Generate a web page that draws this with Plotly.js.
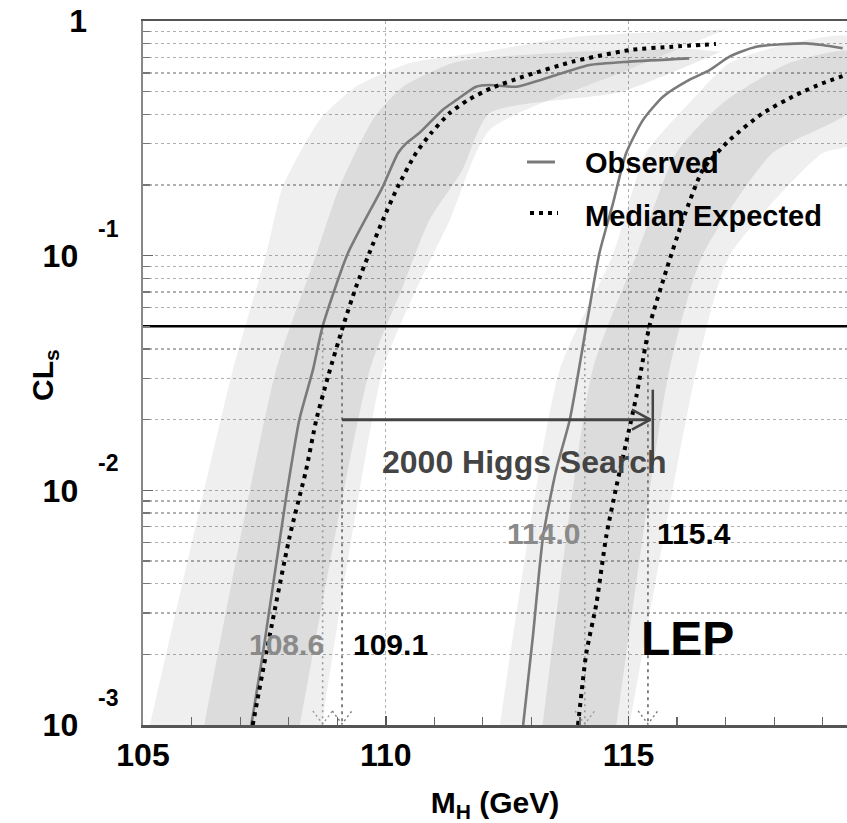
<!DOCTYPE html>
<html><head><meta charset="utf-8">
<script src="https://cdn.plot.ly/plotly-3.0.1.min.js"></script>
<style>html,body{margin:0;padding:0;background:#fff}</style>
</head><body><div id="chart" style="width:847px;height:823px"></div>
<script>
// ---------------- data ----------------
// earlier search: observed / median expected CLs vs Higgs mass
const obsLeftM  = [107.23,107.47,107.95,108.22,108.50,108.70,109.22,109.94,110.25,110.42,110.69,111.17,111.45,111.86,112.14,112.69,113.51,114.20,115.02,116.25];
const obsLeftCL = [0.001,0.00202,0.0094,0.0200,0.0326,0.050,0.1024,0.197,0.273,0.301,0.333,0.418,0.460,0.525,0.534,0.525,0.589,0.649,0.671,0.693];
const expLeftM  = [107.26,107.54,108.02,108.36,108.57,108.81,109.12,109.39,109.66,109.94,110.25,110.62,110.93,111.31,111.69,112.17,112.83,113.85,115.02,115.91,116.80];
const expLeftCL = [0.001,0.00203,0.00635,0.01222,0.0200,0.0305,0.050,0.0738,0.1024,0.142,0.197,0.273,0.332,0.404,0.460,0.517,0.579,0.671,0.752,0.777,0.798];
// 2000 search
const obsRightM  = [112.83,113.03,113.24,113.51,113.79,114.13,114.40,114.68,114.95,115.30,115.71,116.25,116.67,117.08,117.63,118.65,118.99,119.41];
const obsRightCL = [0.001,0.00238,0.00635,0.0122,0.0200,0.050,0.1024,0.167,0.273,0.379,0.476,0.561,0.618,0.705,0.777,0.803,0.790,0.765];
const expRightM  = [113.96,114.13,114.34,114.54,114.75,114.95,115.16,115.26,115.43,115.78,116.12,116.53,117.08,117.76,118.45,119.00,119.48];
const expRightCL = [0.001,0.00202,0.0033,0.00635,0.01037,0.0159,0.0251,0.0326,0.050,0.0869,0.142,0.232,0.311,0.404,0.484,0.543,0.589];

// +-2 sigma (light) and +-1 sigma (dark) bands: lower-mass edge then higher-mass edge
const bandL2loM = [105.14,106.85,107.53,107.88,108.64,109.38,110.49,111.85,114.0,117.0];
const bandL2loCL= [0.001,0.0326,0.1,0.197,0.379,0.524,0.662,0.731,0.86,0.92];
const bandL2hiM = [117.0,115.0,112.14,111.32,110.60,109.94,108.68];
const bandL2hiCL= [0.92,0.62,0.343,0.142,0.070,0.0326,0.001];
const bandL1loM = [106.26,107.74,108.56,109.05,109.73,110.35,111.38,112.14,114.0,116.25,116.9];
const bandL1loCL= [0.001,0.0326,0.1,0.197,0.379,0.524,0.662,0.70,0.74,0.76,0.74];
const bandL1hiM = [116.9,114.86,112.14,111.58,110.90,110.35,109.67,108.23];
const bandL1hiCL= [0.74,0.50,0.405,0.232,0.142,0.0738,0.0326,0.001];

const bandR2loM = [112.35,113.58,114.67,115.36,116.25,117.08,118.30,119.6];
const bandR2loCL= [0.001,0.0326,0.1,0.273,0.447,0.662,0.80,0.85];
const bandR2hiM = [119.6,118.99,117.08,116.40,115.02];
const bandR2hiCL= [0.30,0.273,0.1,0.0326,0.001];
const bandR1loM = [113.23,114.26,115.16,115.98,116.94,118.31,119.6];
const bandR1loCL= [0.001,0.0326,0.1,0.273,0.447,0.662,0.74];
const bandR1hiM = [119.6,117.96,116.52,115.84,114.75];
const bandR1hiCL= [0.42,0.273,0.1,0.0326,0.001];

const clsLevel = 0.05;
const obsLimitText = ['108.6','114.0'];
const expLimitText = ['109.1','115.4'];
const obsLimitX = [108.7, 114.1];
const expLimitX = [109.1, 115.4];
const searchArrowCL = 0.02;
const searchLabel = '2000 Higgs Search';
const legendLabels = ['Observed','Median Expected'];

const xTickVals = [105,110,115];
const xTickText = ['105','110','115'];
const yTickVals = [0.001,0.01,0.1,1];
const yTickText = ['10\u00a0','10\u00a0','10\u00a0','1'];
const yTickExp  = ['-3','-2','-1',''];

// ---------------- drawing ----------------
const F = 'Liberation Sans, Arial, Helvetica, sans-serif';
const XR = [105,119.5];
const OBS_C = '#7a7a7a';
const DOT = '4px,5px';

function band(loM, loCL, hiM, hiCL, color){
  return {x: loM.concat(hiM), y: loCL.concat(hiCL), type:'scatter', mode:'lines',
    fill:'toself', fillcolor: color, line:{width:0, shape:'spline', smoothing:0.6}, hoverinfo:'skip', showlegend:false};
}
function line(x, y, color, width, dash, smooth){
  const l = {color:color, width:width, dash:dash||'solid'};
  if(smooth){ l.shape='spline'; l.smoothing=smooth; }
  return {x:x, y:y, type:'scatter', mode:'lines', line:l, hoverinfo:'skip', showlegend:false};
}
const light = 'rgba(0,0,0,0.062)';
const dark  = 'rgba(0,0,0,0.08)';

const traces = [
  band(bandL2loM,bandL2loCL,bandL2hiM,bandL2hiCL, light),
  band(bandR2loM,bandR2loCL,bandR2hiM,bandR2hiCL, light),
  band(bandL1loM,bandL1loCL,bandL1hiM,bandL1hiCL, dark),
  band(bandR1loM,bandR1loCL,bandR1hiM,bandR1hiCL, dark),
];
// vertical limit markers
const yBot = 0.001;
function pxUp(p){ return Math.pow(10, -3 + p/234.7); }
obsLimitX.forEach(v=>{
  traces.push(line([v,v],[clsLevel,yBot],'#9a9a9a',1.6,'2px,4px'));
  traces.push(line([v-0.2,v,v+0.2],[pxUp(14),pxUp(1),pxUp(14)],'#9a9a9a',1.4,'2px,3px'));
});
expLimitX.forEach(v=>{
  traces.push(line([v,v],[clsLevel,yBot],'#777',1.8,'3px,4px'));
  traces.push(line([v-0.2,v,v+0.2],[pxUp(14),pxUp(1),pxUp(14)],'#777',1.4,'2px,3px'));
});
// curves
traces.push(line(obsLeftM, obsLeftCL, OBS_C, 2.6, null, 0.6));
traces.push(line(obsRightM, obsRightCL, OBS_C, 2.6, null, 0.6));
traces.push(line(expLeftM, expLeftCL, '#000', 4, DOT, 0.6));
traces.push(line(expRightM, expRightCL, '#000', 4, DOT, 0.6));
// 95% CL line
traces.push(line(XR, [clsLevel, clsLevel], '#000', 2.6));
// search arrow
const aTip = 115.45;
traces.push(line([expLimitX[0], aTip], [searchArrowCL, searchArrowCL], '#444', 3));
traces.push(line([aTip-0.38, aTip, aTip-0.38], [searchArrowCL*Math.pow(10,10/234.7), searchArrowCL, searchArrowCL/Math.pow(10,10/234.7)], '#444', 2.5));
traces.push(line([aTip+0.05, aTip+0.05], [searchArrowCL*Math.pow(10,30/234.7), searchArrowCL/Math.pow(10,45/234.7)], '#444', 2.5));

function px2paperX(p){ return (p-143)/704; }
function px2paperY(p){ return (725-p)/704; }

const annotations = [
  {text: obsLimitText[0], x: px2paperX(286), y: px2paperY(644), color:'#8a8a8a'},
  {text: expLimitText[0], x: px2paperX(390.5), y: px2paperY(644), color:'#000'},
  {text: obsLimitText[1], x: px2paperX(543), y: px2paperY(533), color:'#8a8a8a'},
  {text: expLimitText[1], x: px2paperX(694), y: px2paperY(533), color:'#000'},
].map(a=>({xref:'paper', yref:'paper', x:a.x, y:a.y, text:a.text, showarrow:false,
  xanchor:'center', yanchor:'middle', font:{family:F, size:30, color:a.color, weight:'bold'}}));
annotations.push({xref:'paper', yref:'paper', x:px2paperX(524), y:px2paperY(462), text:searchLabel,
  showarrow:false, xanchor:'center', yanchor:'middle', font:{family:F, size:32, color:'#444', weight:'bold'}});
annotations.push({xref:'paper', yref:'paper', x:px2paperX(687), y:px2paperY(638), text:'LEP',
  showarrow:false, xanchor:'center', yanchor:'middle', font:{family:F, size:48, color:'#000', weight:'bold'}});
annotations.push({xref:'paper', yref:'paper', x:px2paperX(583), y:px2paperY(163), text:legendLabels[0],
  showarrow:false, xanchor:'left', yanchor:'middle', font:{family:F, size:29, color:'#000', weight:'bold'}});
annotations.push({xref:'paper', yref:'paper', x:px2paperX(583), y:px2paperY(216), text:legendLabels[1],
  showarrow:false, xanchor:'left', yanchor:'middle', font:{family:F, size:29, color:'#000', weight:'bold'}});
// y axis title
annotations.push({xref:'paper', yref:'paper', x:px2paperX(44), y:px2paperY(375), text:'CL<sub>s</sub>', textangle:-90,
  showarrow:false, xanchor:'center', yanchor:'middle', font:{family:F, size:30, color:'#000', weight:'bold'}});
// exponents of the y tick labels
yTickVals.forEach((v,i)=>{
  if(!yTickExp[i]) return;
  annotations.push({xref:'paper', yref:'y', x:px2paperX(108), y:Math.log10(v), yshift:27, text:yTickExp[i],
    showarrow:false, xanchor:'center', yanchor:'middle', font:{family:F, size:23, color:'#000', weight:'bold'}});
});

const shapes = [
  {type:'line', xref:'paper', yref:'paper', x0:px2paperX(527), x1:px2paperX(555), y0:px2paperY(162), y1:px2paperY(162),
   line:{color:OBS_C, width:3}},
  {type:'line', xref:'paper', yref:'paper', x0:px2paperX(530), x1:px2paperX(558), y0:px2paperY(213), y1:px2paperY(213),
   line:{color:'#000', width:4, dash:DOT}},
];

const layout = {
  width:847, height:823, margin:{l:143, r:0, t:21, b:98}, autosize:false,
  paper_bgcolor:'#fff', plot_bgcolor:'#fff', showlegend:false,
  font:{family:F, size:32, color:'#000', weight:'bold'},
  xaxis:{range:XR, tickmode:'array', tickvals:xTickVals, ticktext:xTickText, ticks:'inside', ticklen:9, tickwidth:1.5,
    tickcolor:'#555', showline:true, linecolor:'#555', linewidth:2.5, mirror:true, zeroline:false,
    showgrid:true, gridcolor:'#b0b0b0', griddash:'dot', gridwidth:1.2,
    minor:{dtick:1, tick0:105, ticks:'inside', ticklen:8, tickwidth:1.2, tickcolor:'#666', showgrid:false},
    tickfont:{family:F, size:32, weight:'bold'}, ticklabelstandoff:0,
    title:{text:'M<sub>H</sub> (GeV)', font:{family:F, size:30, weight:'bold'}, standoff:20}},
  yaxis:{type:'log', range:[-3,0], tickmode:'array', tickvals:yTickVals, ticktext:yTickText, ticks:'inside', ticklen:10,
    tickwidth:1.5, tickcolor:'#666', showline:true, linecolor:'#888', linewidth:2.5, zeroline:false,
    showgrid:true, gridcolor:'#b0b0b0', griddash:'dot', gridwidth:1.2,
    minor:{dtick:'D1', ticks:'inside', ticklen:7, tickwidth:1.2, tickcolor:'#777', showgrid:true, gridcolor:'#b0b0b0', griddash:'dot', gridwidth:1.2},
    tickfont:{family:F, size:32, weight:'bold'}, ticklabelstandoff:47},
  annotations:annotations, shapes:shapes
};

Plotly.newPlot('chart', traces, layout, {staticPlot:true, displayModeBar:false});
</script></body></html>
